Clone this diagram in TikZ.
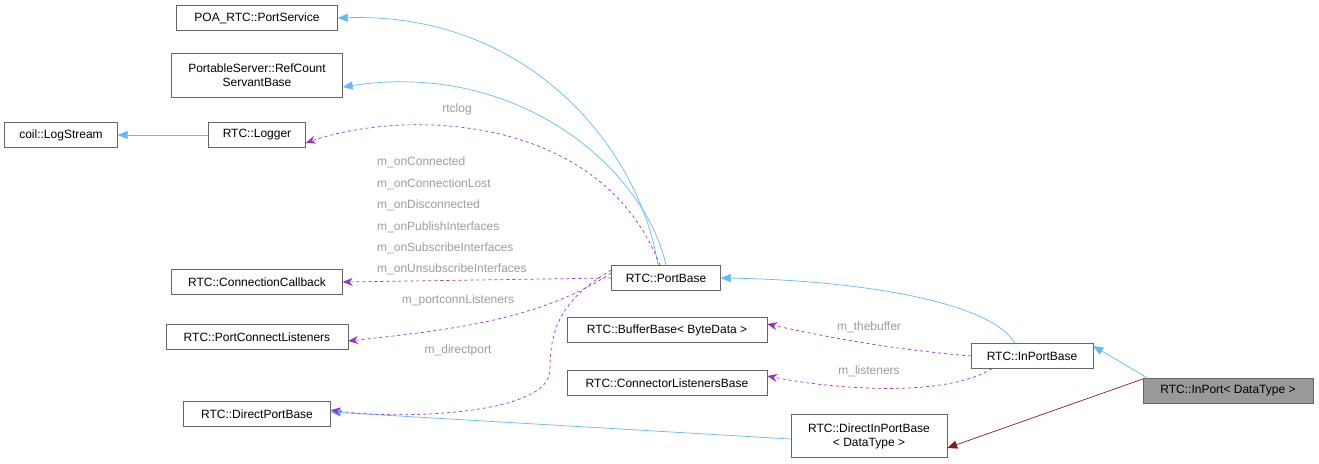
\documentclass[tikz,border=0pt]{standalone}
\usepackage{fontspec}
\setmainfont{Liberation Sans}
\usetikzlibrary{arrows.meta}
\definecolor{inh}{HTML}{63B8FF}
\definecolor{use}{HTML}{9A32CD}
\definecolor{lbl}{HTML}{9C9C9C}
\definecolor{red}{HTML}{8B1A1A}
\begin{document}
\begin{tikzpicture}[x=1pt,y=-1pt,
 box/.style={draw=black!60,fill=white,inner sep=0pt,minimum height=25,font=\fontsize{12}{14}\selectfont,align=center},
 inh/.style={draw=inh,-{Triangle[open,fill=inh,length=10,width=8]},line width=0.7},
 use/.style={draw=use,dashed,-{Stealth[length=10,width=8]},line width=0.7},
 lb/.style={text=lbl,font=\fontsize{12}{14}\selectfont,inner sep=0pt}]
\useasboundingbox (0,0) rectangle (1319,463);
\node[box,minimum width=161] (ps) at (257,18) {POA\_RTC::PortService};
\node[box,minimum width=171,minimum height=44] (rc) at (257,75) {PortableServer::RefCount\\ServantBase};
\node[box,minimum width=113] (ls) at (61,135) {coil::LogStream};
\node[box,minimum width=97] (lg) at (257,135) {RTC::Logger};
\node[box,minimum width=171] (cc) at (257,282) {RTC::ConnectionCallback};
\node[box,minimum width=182] (pcl) at (257,337) {RTC::PortConnectListeners};
\node[box,minimum width=147] (dpb) at (257,414) {RTC::DirectPortBase};
\node[box,minimum width=109] (pb) at (666,278) {RTC::PortBase};
\node[box,minimum width=200] (bb) at (667,330) {RTC::BufferBase< ByteData >};
\node[box,minimum width=200] (clb) at (667,383) {RTC::ConnectorListenersBase};
\node[box,minimum width=122] (ipb) at (1032,356) {RTC::InPortBase};
\node[box,minimum width=156,minimum height=43] (dipb) at (869,436) {RTC::DirectInPortBase\\< DataType >};
\node[box,minimum width=170,fill=black!40] (ip) at (1228,391) {RTC::InPort< DataType >};
% inheritance
\draw[inh] (pb.north) ++(-8,0) .. controls (640,150) and (530,12) .. (ps.east);
\draw[inh] (pb.north) .. controls (645,170) and (520,60) .. ([yshift=-12]rc.east);
\draw[inh] (lg.west) -- (ls.east);
\draw[inh] ([xshift=-17]ipb.north) .. controls (990,300) and (850,280) .. (pb.east);
\draw[inh] ([xshift=-80]ip.north) -- ([yshift=10]ipb.east);
\draw[inh] ([yshift=-3]dipb.west) -- ([yshift=2]dpb.east);
\draw[draw=red,-{Triangle[open,fill=red,length=10,width=8]},line width=0.7] ([yshift=12]ip.west) -- ([yshift=-12]dipb.east);
% usage
\draw[use] ([xshift=-6]pb.north) .. controls (600,110) and (400,110) .. ([yshift=-8]lg.east);
\draw[use] (pb.west) -- (cc.east);
\draw[use] ([yshift=5]pb.west) .. controls (540,320) and (450,330) .. ([yshift=-4]pcl.east);
\draw[use] ([yshift=8]pb.west) .. controls (560,300) and (550,330) .. (550,370) .. controls (550,415) and (400,420) .. ([yshift=4]dpb.east);
\draw[use] (ipb.west) .. controls (900,350) and (840,340) .. ([yshift=6]bb.east);
\draw[use] ([xshift=-40]ipb.south) .. controls (950,395) and (850,392) .. ([yshift=7]clb.east);
% labels
\node[lb] (l1) at (457,109) {rtclog};
\node[lb,anchor=west] (l2) at (377,162) {m\_onConnected};
\node[lb,anchor=west] (l3) at (377,184) {m\_onConnectionLost};
\node[lb,anchor=west] (l4) at (377,205) {m\_onDisconnected};
\node[lb,anchor=west] (l5) at (377,227) {m\_onPublishInterfaces};
\node[lb,anchor=west] (l6) at (377,248) {m\_onSubscribeInterfaces};
\node[lb,anchor=west] (l7) at (377,269) {m\_onUnsubscribeInterfaces};
\node[lb] (l8) at (458,300) {m\_portconnListeners};
\node[lb] (l9) at (458,350) {m\_directport};
\node[lb] (l10) at (869,327) {m\_thebuffer};
\node[lb] (l11) at (869,371) {m\_listeners};
\end{tikzpicture}
\end{document}
